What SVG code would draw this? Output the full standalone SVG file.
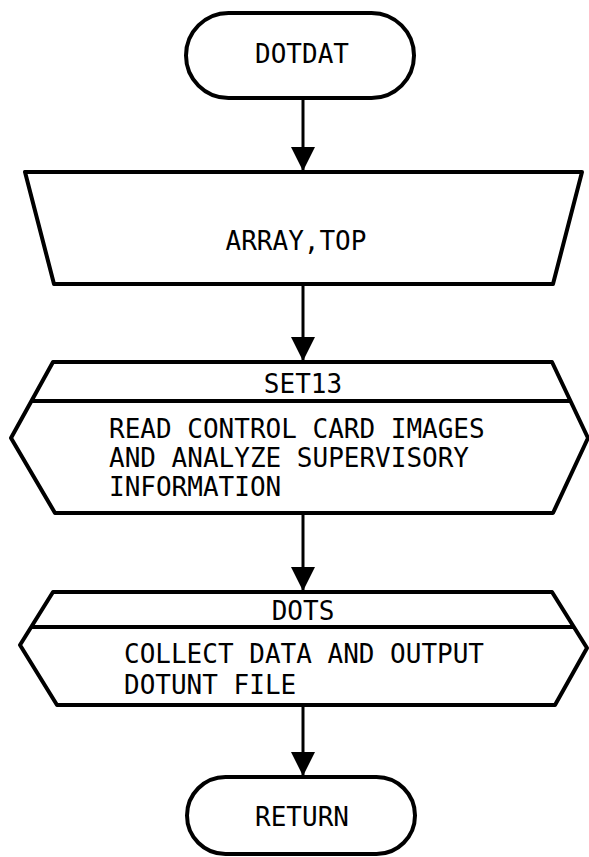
<svg xmlns="http://www.w3.org/2000/svg" width="589" height="857" viewBox="0 0 589 857">
<style>
.shape{fill:#fff;stroke:#000;stroke-width:4;stroke-linejoin:round}
.line{stroke:#000;stroke-width:3;fill:none}
.div{stroke:#000;stroke-width:4}
text{font-family:"DejaVu Sans Mono","Liberation Mono",monospace;font-size:26px;fill:#000}
.c{text-anchor:middle}
</style>
<defs>
<marker id="arr" markerWidth="8" markerHeight="8" refX="8" refY="4" orient="auto" markerUnits="strokeWidth">
<path d="M0,0 L8,4 L0,8 Z" fill="#000"/>
</marker>
</defs>
<g id="connectors">
<line class="line" x1="303" y1="98" x2="303" y2="171" marker-end="url(#arr)"/>
<line class="line" x1="303" y1="284" x2="303" y2="361" marker-end="url(#arr)"/>
<line class="line" x1="303" y1="513" x2="303" y2="591" marker-end="url(#arr)"/>
<line class="line" x1="303" y1="705" x2="303" y2="776" marker-end="url(#arr)"/>
</g>
<g id="dotdat">
<rect class="shape" x="186" y="13" width="228" height="85" rx="42.5"/>
<text class="c" x="302" y="63">DOTDAT</text>
</g>
<g id="array_top">
<polygon class="shape" points="25,172 582,172 553,284 54,284"/>
<text class="c" x="296" y="250">ARRAY,TOP</text>
</g>
<g id="set13">
<polygon class="shape" points="53,362 552,362 588,438 553,513 55,513 11,438"/>
<line class="div" x1="31" y1="401" x2="571" y2="401"/>
<text class="c" x="303" y="393">SET13</text>
<text x="109" y="438">READ CONTROL CARD IMAGES</text>
<text x="109" y="467">AND ANALYZE SUPERVISORY</text>
<text x="109" y="496">INFORMATION</text>
</g>
<g id="dots">
<polygon class="shape" points="53,592 552,592 587,648 555,705 57,705 20,645"/>
<line class="div" x1="32" y1="627" x2="574" y2="627"/>
<text class="c" x="303" y="620">DOTS</text>
<text x="124" y="663">COLLECT DATA AND OUTPUT</text>
<text x="124" y="694">DOTUNT FILE</text>
</g>
<g id="return">
<rect class="shape" x="187" y="777" width="228" height="77" rx="38.5"/>
<text class="c" x="302" y="826">RETURN</text>
</g>
</svg>
